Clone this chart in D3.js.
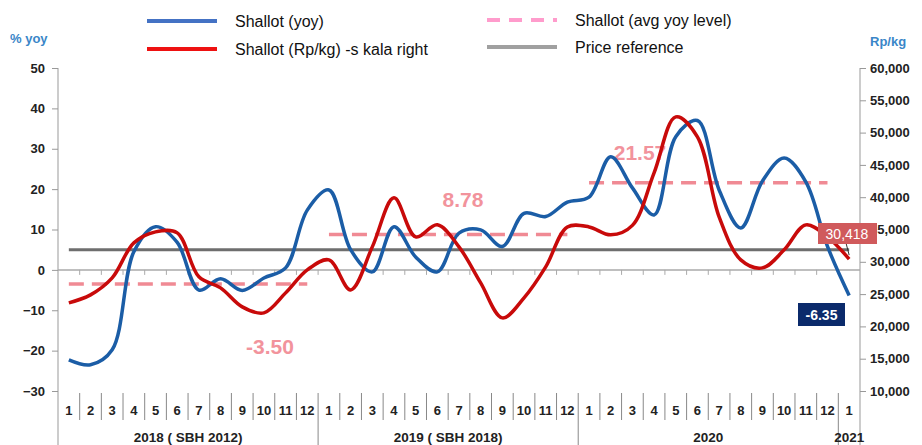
<!DOCTYPE html>
<html>
<head>
<meta charset="utf-8">
<script src="https://cdn.jsdelivr.net/npm/d3@7"></script>
<style>
  body { margin: 0; background: #fff; }
  svg { display: block; font-family: "Liberation Sans", Arial, sans-serif; }
</style>
</head>
<body>
<div id="chart"></div>
<script>
// month labels along the bottom (2018-01 .. 2021-01)
var months = [1,2,3,4,5,6,7,8,9,10,11,12, 1,2,3,4,5,6,7,8,9,10,11,12, 1,2,3,4,5,6,7,8,9,10,11,12, 1];
var years = [
  {label: '2018 ( SBH 2012)', start: 0, end: 12},
  {label: '2019 ( SBH 2018)', start: 12, end: 24},
  {label: '2020', start: 24, end: 36},
  {label: '2021', start: 36, end: 37}
];
// shallot yoy (%), left axis
var yoy = [-22.3, -23.5, -19.8, 4.5, 10.7, 6.8, -5.0, -2.2, -5.1, -2.0, 0.5, 14.8,
           19.8, 5.0, -0.5, 10.7, 3.2, -0.5, 9.1, 9.9, 5.8, 14.0, 13.2, 16.8,
           18.0, 28.0, 20.3, 13.6, 33.0, 37.0, 19.8, 10.4, 22.0, 27.7, 21.8, 5.8,
           -6.35];
// shallot price (Rp/kg), right axis
var price = [23640, 24880, 27510, 32930, 34630, 34480, 27670, 25960, 23020, 22090, 25190, 28750,
             30300, 25650, 32310, 39900, 33860, 35720, 32310, 26740, 21320, 24420, 29210, 35400,
             35400, 34170, 35640, 43770, 52430, 49340, 36950, 30300, 29060, 31850, 35720, 33860,
             30418];
// average yoy level per year
var avgLevels = [
  {value: -3.50, start: 0, end: 11, label: '-3.50', lx: 270, ly: 347},
  {value: 8.78, start: 12, end: 23, label: '8.78', lx: 463, ly: 200},
  {value: 21.57, start: 24, end: 35, label: '21.57', lx: 640, ly: 153}
];
var priceRef = 5;
var leftTicks = [50, 40, 30, 20, 10, 0, -10, -20, -30];
var rightTicks = [60000, 55000, 50000, 45000, 40000, 35000, 30000, 25000, 20000, 15000, 10000];

var width = 922, height = 445;
var plotL = 58, plotR = 860, plotT = 68, plotB = 391;

var svg = d3.select('#chart').append('svg')
  .attr('width', width)
  .attr('height', height);

var x = d3.scaleBand()
  .domain(d3.range(months.length))
  .range([plotL, plotR]);
var cx = i => x(i) + x.bandwidth() / 2;

var yL = d3.scaleLinear().domain([-30, 50]).range([plotB, plotT]);
var yR = d3.scaleLinear().domain([10000, 60000]).range([plotB, plotT]);

// left axis
var leftAxis = d3.axisLeft(yL).tickValues(leftTicks).tickSize(6).tickPadding(7);
var gL = svg.append('g').attr('transform', `translate(${plotL},0)`).call(leftAxis);
gL.select('.domain').remove();
gL.selectAll('.tick line').attr('stroke', '#999');
gL.selectAll('.tick text')
  .attr('font-size', '13px').attr('font-weight', 'bold').attr('fill', '#222');
svg.append('line')
  .attr('x1', plotL).attr('x2', plotL).attr('y1', plotT).attr('y2', height)
  .attr('stroke', '#999');

// right axis
var rightAxis = d3.axisRight(yR).tickValues(rightTicks).tickSize(6).tickPadding(4)
  .tickFormat(d3.format(','));
var gR = svg.append('g').attr('transform', `translate(${plotR},0)`).call(rightAxis);
gR.select('.domain').remove();
gR.selectAll('.tick line').attr('stroke', '#999');
gR.selectAll('.tick text')
  .attr('font-size', '13px').attr('font-weight', 'bold').attr('fill', '#222');
svg.append('line')
  .attr('x1', plotR).attr('x2', plotR).attr('y1', plotT).attr('y2', height)
  .attr('stroke', '#999');

// zero line with small ticks at category borders
svg.append('line')
  .attr('x1', plotL).attr('x2', plotR).attr('y1', yL(0)).attr('y2', yL(0))
  .attr('stroke', '#aaa').attr('stroke-width', 1.5);
svg.append('g').selectAll('line')
  .data(d3.range(1, months.length))
  .enter().append('line')
  .attr('x1', d => x(d)).attr('x2', d => x(d))
  .attr('y1', yL(0)).attr('y2', yL(0) + 5)
  .attr('stroke', '#aaa');

// month labels and separators
var gM = svg.append('g');
gM.selectAll('text')
  .data(months)
  .enter().append('text')
  .attr('x', (d, i) => cx(i))
  .attr('y', 415)
  .attr('text-anchor', 'middle')
  .attr('font-size', '13px')
  .attr('font-weight', 'bold')
  .attr('fill', '#222')
  .text(d => d);
gM.selectAll('line')
  .data(d3.range(1, months.length))
  .enter().append('line')
  .attr('x1', d => x(d)).attr('x2', d => x(d))
  .attr('y1', 393)
  .attr('y2', d => years.some(y => y.start === d) ? height : 420)
  .attr('stroke', '#888');

// year labels
svg.append('g').selectAll('text')
  .data(years)
  .enter().append('text')
  .attr('x', d => (x(d.start) + x(d.end - 1) + x.bandwidth()) / 2)
  .attr('y', 442)
  .attr('text-anchor', 'middle')
  .attr('font-size', '13.5px')
  .attr('font-weight', 'bold')
  .attr('fill', '#222')
  .text(d => d.label);

// price reference
svg.append('line')
  .attr('x1', cx(0)).attr('x2', cx(months.length - 1))
  .attr('y1', yL(priceRef)).attr('y2', yL(priceRef))
  .attr('stroke', '#6e6e6e').attr('stroke-width', 3);

// average yoy levels
svg.append('g').selectAll('line')
  .data(avgLevels)
  .enter().append('line')
  .attr('x1', d => cx(d.start)).attr('x2', d => cx(d.end))
  .attr('y1', d => yL(d.value)).attr('y2', d => yL(d.value))
  .attr('stroke', '#f08a94').attr('stroke-width', 3.5)
  .attr('stroke-dasharray', '15,8');
svg.append('g').selectAll('text')
  .data(avgLevels)
  .enter().append('text')
  .attr('x', d => d.lx).attr('y', d => d.ly + 7)
  .attr('text-anchor', 'middle')
  .attr('font-size', '21px')
  .attr('font-weight', 'bold')
  .attr('fill', '#f2939c')
  .text(d => d.label);

// lines
var yoyLine = d3.line()
  .x((d, i) => cx(i))
  .y(d => yL(d))
  .curve(d3.curveCatmullRom.alpha(0.5));
var priceLine = d3.line()
  .x((d, i) => cx(i))
  .y(d => yR(d))
  .curve(d3.curveCatmullRom.alpha(0.5));

svg.append('path')
  .datum(yoy)
  .attr('d', yoyLine)
  .attr('fill', 'none')
  .attr('stroke', '#1b5da6')
  .attr('stroke-width', 3.5);
svg.append('path')
  .datum(price)
  .attr('d', priceLine)
  .attr('fill', 'none')
  .attr('stroke', '#c80a0a')
  .attr('stroke-width', 3.5);

// last value labels
var last = months.length - 1;
svg.append('line')
  .attr('x1', 846).attr('y1', 243)
  .attr('x2', cx(last)).attr('y2', yR(price[last]) - 4)
  .attr('stroke', '#333').attr('stroke-width', 1);
svg.append('rect')
  .attr('x', 818).attr('y', 223).attr('width', 59).attr('height', 21)
  .attr('fill', '#d05a5c');
svg.append('text')
  .attr('x', 847).attr('y', 238.5)
  .attr('text-anchor', 'middle')
  .attr('font-size', '14px')
  .attr('fill', '#fff')
  .text(d3.format(',')(price[last]));

svg.append('rect')
  .attr('x', 798).attr('y', 303).attr('width', 47).attr('height', 23)
  .attr('fill', '#0b2a6b');
svg.append('text')
  .attr('x', 821.5).attr('y', 319.5)
  .attr('text-anchor', 'middle')
  .attr('font-size', '14px')
  .attr('font-weight', 'bold')
  .attr('fill', '#fff')
  .text(yoy[last].toFixed(2));

// axis titles
svg.append('text')
  .attr('x', 10).attr('y', 43)
  .attr('font-size', '13px').attr('font-weight', 'bold').attr('fill', '#3a86c8')
  .text('% yoy');
svg.append('text')
  .attr('x', 870).attr('y', 46)
  .attr('font-size', '13px').attr('font-weight', 'bold').attr('fill', '#3a86c8')
  .text('Rp/kg');

// legend
var legendItems = [
  {label: 'Shallot (yoy)', color: '#4472c4', dash: null, x: 147, y: 21},
  {label: 'Shallot (Rp/kg) -s kala right', color: '#ee1111', dash: null, x: 147, y: 49},
  {label: 'Shallot (avg yoy level)', color: '#ff9ccc', dash: '13,9', x: 487, y: 20},
  {label: 'Price reference', color: '#a0a0a0', dash: null, x: 487, y: 47}
];
var gLeg = svg.append('g').selectAll('g')
  .data(legendItems)
  .enter().append('g');
gLeg.append('line')
  .attr('x1', d => d.x).attr('x2', d => d.x + 70)
  .attr('y1', d => d.y).attr('y2', d => d.y)
  .attr('stroke', d => d.color)
  .attr('stroke-width', 4)
  .attr('stroke-dasharray', d => d.dash);
gLeg.append('text')
  .attr('x', d => d.x + 88)
  .attr('y', d => d.y + 6)
  .attr('font-size', '16px')
  .attr('fill', '#111')
  .text(d => d.label);
</script>
</body>
</html>
